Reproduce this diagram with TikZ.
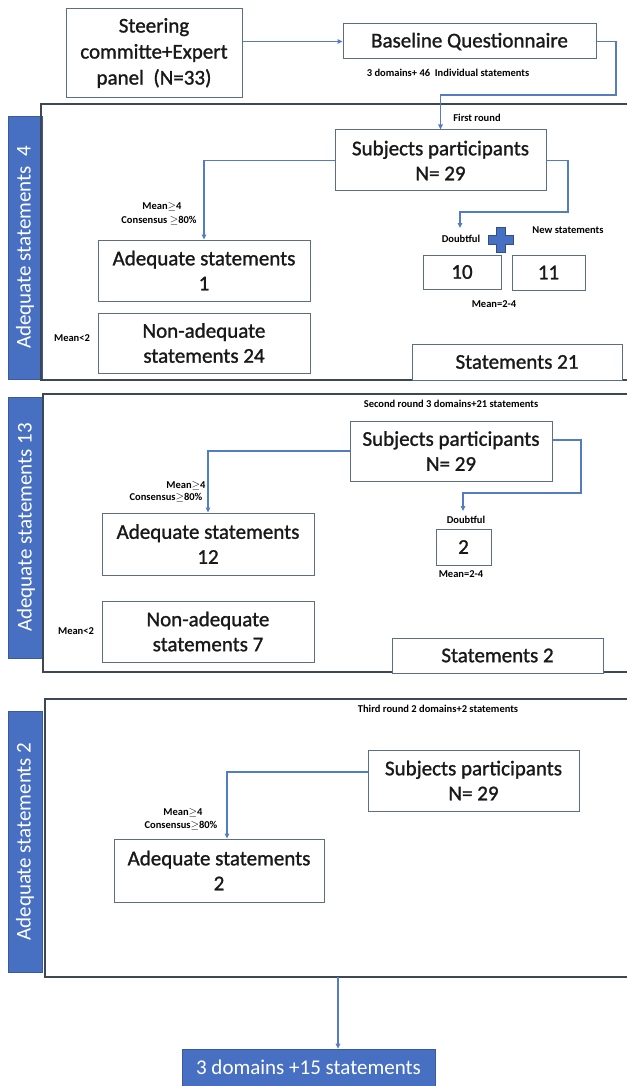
\documentclass[tikz,border=0pt]{standalone}
\usepackage{fontspec}
\setmainfont{Carlito}
\newfontfamily\heavyf[FakeBold=1.2]{Carlito}
\usetikzlibrary{arrows.meta}
\definecolor{connc}{RGB}{84,124,194}
\definecolor{boxc}{RGB}{92,110,132}
\definecolor{framec}{RGB}{62,72,84}
\definecolor{bannerc}{RGB}{72,112,194}
\tikzset{
  box/.style={draw=boxc, line width=1pt, fill=white, inner sep=0pt, align=center,
    font=\heavyf\fontsize{21}{25}\selectfont, text=black!90},
  small/.style={font=\bfseries\fontsize{10.5}{11}\selectfont, inner sep=0pt, text=black},
  connline/.style={draw=connc, line width=1.3pt, -{Triangle[length=5pt,width=4.5pt]}},
  framel/.style={draw=framec, line width=1.6pt},
  banner/.style={fill=bannerc, draw=bannerc!80!black, line width=0.6pt, rotate=90,
    text=white, inner sep=0pt, font=\fontsize{21}{25}\selectfont},
  finalbox/.style={fill=bannerc, draw=bannerc!80!black, line width=0.6pt, inner sep=0pt,
    text=white, font=\fontsize{21}{25}\selectfont}
}
\begin{document}
\begin{tikzpicture}[x=1pt,y=-1pt]
\useasboundingbox (0,0) rectangle (627,1086);

% ---------- top ----------
\node[box, minimum width=176pt, minimum height=89pt, font=\heavyf\fontsize{21}{26}\selectfont] (steer) at (154,53)
  {Steering\\committe+Expert\\panel\ \ (N=33)};
\node[box, minimum width=253pt, minimum height=35pt] (base) at (469.5,41.5)
  {Baseline Questionnaire};
\node[small] (baselab) at (448,73) {3 domains+ 46\ \ Individual statements};
\draw[connline] (base.west -| steer.east) -- (base.west);

% ---------- round 1 ----------
\node[banner, minimum width=263pt, minimum height=34pt] (ban1) at (25,247.5)
  {Adequate statements\ \ 4};
\draw[framel] (627,104) -- (41,104) -- (41,380) -- (627,380);
\node[small] (r1lab) at (477,118) {First round};
\node[box, minimum width=211pt, minimum height=61pt] (subj1) at (440.5,160.5)
  {Subjects participants\\N= 29};
\coordinate (k1) at (616,95);
\draw[connline] (base.east) -| (k1) -| (subj1.north);

\node[box, minimum width=212pt, minimum height=61pt] (adeq1) at (204,270.5)
  {Adequate statements\\1};
\node[box, minimum width=212pt, minimum height=60pt] (nona1) at (204,343)
  {Non-adequate\\statements 24};
\draw[connline] (subj1.west) -| (adeq1.north);
\node[small] (m1a) at (162,207) {Mean$\geq$4};
\node[small] (m1b) at (159,221) {Consensus $\geq$80\%};
\node[small] (m1c) at (72,338) {Mean<2};

\coordinate (k2) at (568,212);
\coordinate (d1) at (460,228);
\draw[connline] (subj1.east) -| (k2) -| (d1);
\node[small] (dbt1) at (461,239) {Doubtful};
\node[small] (new1) at (568,230) {New statements};
\coordinate (plus) at (501,240);
\filldraw[fill=bannerc, draw=bannerc!70!black, line width=0.6pt]
  (plus) ++(-4.5,-12.5) -- ++(9,0) -- ++(0,8) -- ++(8,0) -- ++(0,9) -- ++(-8,0)
  -- ++(0,8) -- ++(-9,0) -- ++(0,-8) -- ++(-8,0) -- ++(0,-9) -- ++(8,0) -- cycle;
\node[box, minimum width=78pt, minimum height=34pt] (b10) at (462,272) {10};
\node[box, minimum width=73pt, minimum height=35pt] (b11) at (548.5,272.5) {11};
\node[small] (mm1) at (494,304) {Mean=2-4};
\node[box, minimum width=210pt, minimum height=36pt] (st21) at (517,362) {Statements 21};

% ---------- round 2 ----------
\node[banner, minimum width=261pt, minimum height=35pt] (ban2) at (26,527.5)
  {Adequate statements 13};
\draw[framel] (627,394) -- (43,394) -- (43,672) -- (627,672);
\node[small] (r2lab) at (451,404) {Second round 3 domains+21 statements};
\node[box, minimum width=202pt, minimum height=60pt] (subj2) at (451,451)
  {Subjects participants\\N= 29};
\node[box, minimum width=212pt, minimum height=62pt] (adeq2) at (208,544)
  {Adequate statements\\12};
\draw[connline] (subj2.west) -| (adeq2.north);
\node[small] (m2a) at (186,486) {Mean$\geq$4};
\node[small] (m2b) at (166,498) {Consensus$\geq$80\%};
\coordinate (k3) at (581,493);
\coordinate (d2) at (463,511);
\draw[connline] ([yshift=11pt]subj2.east) -| (k3) -| (d2);
\node[small] (dbt2) at (466,520) {Doubtful};
\node[box, minimum width=55pt, minimum height=36pt] (b2) at (463.5,547) {2};
\node[small] (mm2) at (461,574) {Mean=2-4};
\node[box, minimum width=212pt, minimum height=61pt] (nona2) at (208,631.5)
  {Non-adequate\\statements 7};
\node[small] (m2c) at (76,631) {Mean<2};
\node[box, minimum width=211pt, minimum height=35pt] (st2) at (497.5,655.5) {Statements 2};

% ---------- round 3 ----------
\node[banner, minimum width=261pt, minimum height=34pt] (ban3) at (25,841.5)
  {Adequate statements 2};
\draw[framel] (627,699) -- (45,699) -- (45,977) -- (627,977);
\node[small] (r3lab) at (438,709) {Third round 2 domains+2 statements};
\node[box, minimum width=211pt, minimum height=61pt] (subj3) at (473.5,780.5)
  {Subjects participants\\N= 29};
\node[box, minimum width=210pt, minimum height=63pt] (adeq3) at (219,870.5)
  {Adequate statements\\2};
\draw[connline] ([yshift=8.5pt]subj3.west) -| ([xshift=8pt]adeq3.north);
\node[small] (m3a) at (183,813) {Mean$\geq$4};
\node[small] (m3b) at (181,826) {Consensus$\geq$80\%};

% ---------- final ----------
\coordinate (f3b) at (338,977);
\node[finalbox, minimum width=253pt, minimum height=37pt] (final) at (308.5,1067.5)
  {3 domains +15 statements};
\draw[connline] (f3b) -- (final.north -| f3b);
\end{tikzpicture}
\end{document}
